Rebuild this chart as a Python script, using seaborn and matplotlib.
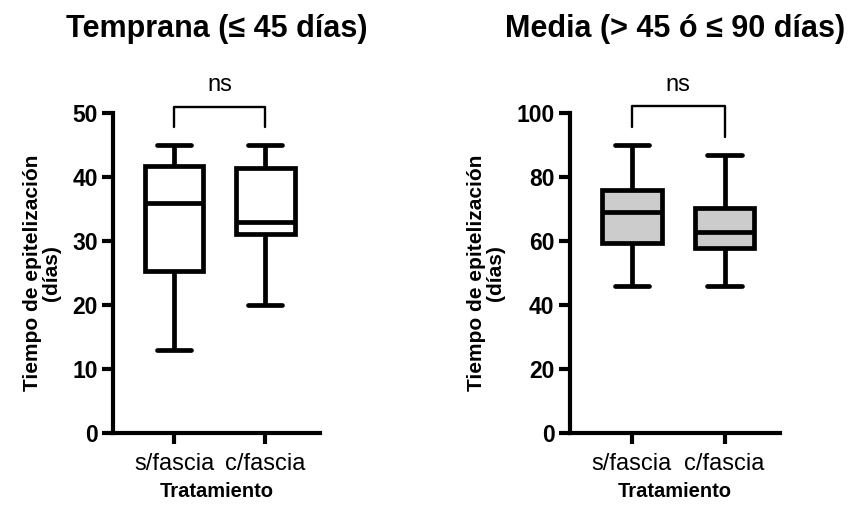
import matplotlib
matplotlib.use("Agg")
import matplotlib.pyplot as plt
import pandas as pd
import seaborn as sns

# five-number summaries (min, Q1, median, Q3, max), in días
categorias = ["s/fascia", "c/fascia"]
temprana_s = [13, 25.3, 36, 41.8, 45]
temprana_c = [20, 31.1, 33, 41.5, 45]
media_s = [46, 59.4, 69, 76, 90]
media_c = [46, 58, 63, 70.5, 87]

titulos = ["Temprana (≤ 45 días)", "Media (> 45 ó ≤ 90 días)"]
ylims = [50, 100]
yticks_paso = [10, 20]
colores = ["white", "#CCCCCC"]

sns.set_style("ticks")
plt.rcParams["font.family"] = ["Liberation Sans", "DejaVu Sans"]
plt.rcParams.update({
    "text.color": "black", "axes.labelcolor": "black", "axes.edgecolor": "black",
    "xtick.color": "black", "ytick.color": "black",
})


def armar_df(s_vals, c_vals):
    """Long-form table so seaborn computes the boxes itself."""
    return pd.DataFrame({
        "tratamiento": [categorias[0]] * len(s_vals) + [categorias[1]] * len(c_vals),
        "dias": s_vals + c_vals,
    })


paneles = [armar_df(temprana_s, temprana_c), armar_df(media_s, media_c)]
# bracket: (left leg bottom, top, right leg bottom) as fraction of ylim
brackets = [(0.958, 1.02, 0.958), (0.958, 1.021, 0.927)]

fig = plt.figure(figsize=(8.49, 5.12), dpi=100)
posiciones = [[0.133, 0.154, 0.244, 0.625], [0.671, 0.154, 0.248, 0.625]]

for i, df in enumerate(paneles):
    ax = fig.add_axes(posiciones[i])
    sns.boxplot(data=df, x="tratamiento", y="dias", order=categorias, ax=ax,
                width=0.64, whis=(0, 100), color=colores[i], saturation=1,
                linecolor="black", linewidth=3.4, fliersize=0, capwidths=0.37)
    top = ylims[i]
    ax.set_ylim(0, top)
    ax.set_yticks(range(0, top + 1, yticks_paso[i]))
    ax.set_xlim(-0.67, 1.6)
    sns.despine(ax=ax)
    for sp in ["left", "bottom"]:
        ax.spines[sp].set_linewidth(3)
    ax.tick_params(axis="y", length=8, width=3, pad=3, labelsize=16.5)
    ax.tick_params(axis="x", length=8, width=3, pad=6, labelsize=17)
    for lab in ax.get_yticklabels():
        lab.set_fontweight("bold")
    ax.set_ylabel("Tiempo de epitelización\n(días)", fontsize=15,
                  fontweight="bold", labelpad=8, linespacing=1.0)
    ax.set_xlabel("Tratamiento", fontsize=14.5, fontweight="bold", labelpad=5)

    b = brackets[i]
    ax.plot([0, 0, 1, 1], [b[0] * top, b[1] * top, b[1] * top, b[2] * top],
            color="black", lw=1.7, clip_on=False)
    ax.text(0.5, 1.087 * top, "ns", ha="center", va="center", fontsize=17)

    x_c = posiciones[i][0] + posiciones[i][2] / 2
    fig.text(x_c, 0.944, titulos[i], ha="center", va="center",
             fontsize=22, fontweight="bold")

fig.savefig("out.png", dpi=100)
